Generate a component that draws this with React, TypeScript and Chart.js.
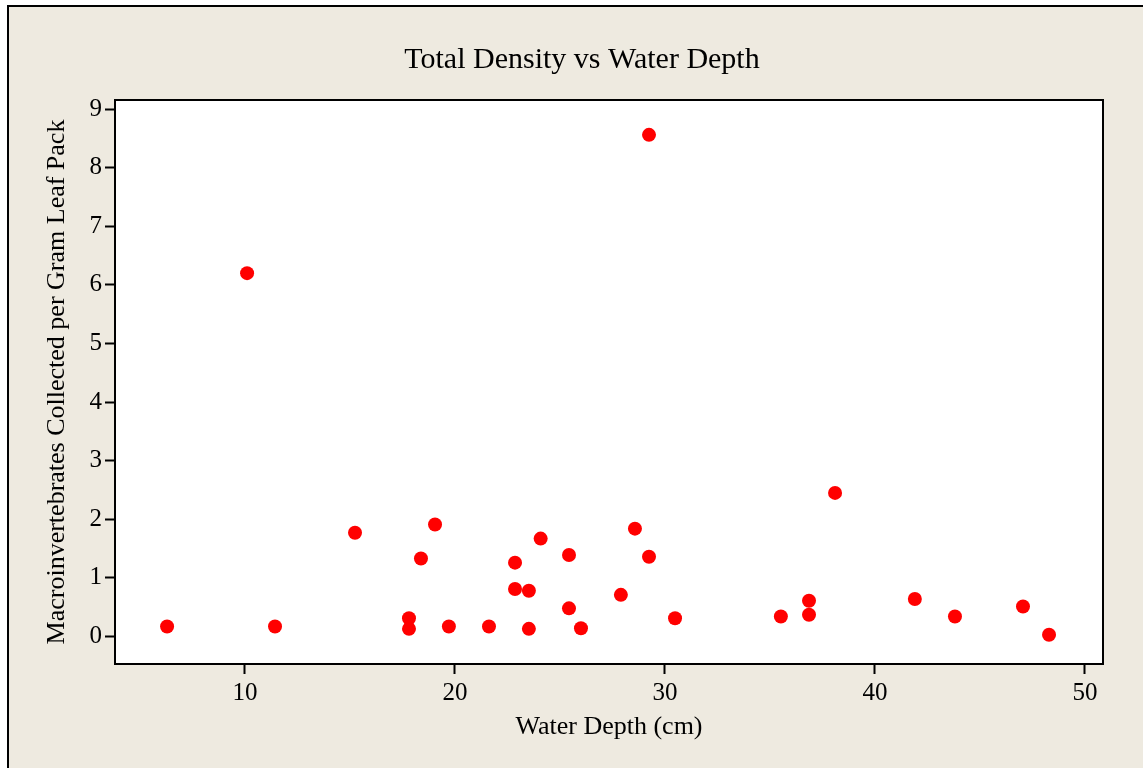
import React, { useEffect, useRef } from "react";
import { Chart, registerables } from "chart.js";

Chart.register(...registerables);

const chartTitle = "Total Density vs Water Depth";
const xAxisTitle = "Water Depth (cm)";
const yAxisTitle = "Macroinvertebrates Collected per Gram Leaf Pack";

const waterDepth = [
  6.29, 10.1, 11.43, 15.24, 17.81, 17.81, 18.38, 19.05, 19.71, 21.62,
  22.86, 22.86, 23.52, 23.52, 24.08, 25.43, 25.43, 26.0, 27.9, 28.57,
  29.24, 29.24, 30.48, 35.52, 36.86, 36.86, 38.1, 41.9, 43.81, 47.05, 48.29,
];
const density = [
  0.17, 6.2, 0.17, 1.77, 0.31, 0.13, 1.33, 1.91, 0.17, 0.17,
  1.26, 0.81, 0.78, 0.13, 1.67, 1.39, 0.48, 0.14, 0.71, 1.84,
  8.56, 1.36, 0.31, 0.34, 0.61, 0.37, 2.45, 0.64, 0.34, 0.51, 0.03,
];

const xTicks = [10, 20, 30, 40, 50];
const yTicks = [0, 1, 2, 3, 4, 5, 6, 7, 8, 9];
const xRange = [3.81, 50.86];
const yRange = [-0.47, 9.155];

const FONT = "'Liberation Serif', 'Times New Roman', serif";

const framePlugin = {
  id: "framePlugin",
  beforeDraw(chart: any) {
    const { ctx, chartArea } = chart;
    const { left, top, right, bottom } = chartArea;
    ctx.save();
    ctx.fillStyle = "#ffffff";
    ctx.fillRect(left, top, right - left, bottom - top);
    ctx.restore();
  },
  afterDraw(chart: any) {
    const { ctx, chartArea } = chart;
    const { left, top, right, bottom } = chartArea;
    ctx.save();
    ctx.strokeStyle = "#000000";
    ctx.lineWidth = 2;
    ctx.strokeRect(left, top, right - left, bottom - top);
    ctx.fillStyle = "#000000";
    ctx.font = `30px ${FONT}`;
    ctx.textAlign = "center";
    ctx.textBaseline = "alphabetic";
    ctx.fillText(chartTitle, 582, 68);
    ctx.restore();
  },
};

export default function App() {
  const canvasRef = useRef<HTMLCanvasElement | null>(null);

  useEffect(() => {
    if (!canvasRef.current) return;
    const chart = new Chart(canvasRef.current, {
      type: "scatter",
      data: {
        datasets: [
          {
            label: "Density",
            data: waterDepth.map((x, i) => ({ x, y: density[i] })),
            backgroundColor: "#ff0000",
            borderColor: "#ff0000",
            borderWidth: 0,
            pointRadius: 7,
            pointHoverRadius: 7,
          },
        ],
      },
      options: {
        responsive: false,
        animation: false,
        events: [],
        layout: { padding: { left: 0, top: 100, right: 40, bottom: 0 } },
        plugins: {
          legend: { display: false },
          title: { display: false },
          tooltip: { enabled: false },
        },
        scales: {
          x: {
            type: "linear",
            min: xRange[0],
            max: xRange[1],
            afterBuildTicks: (scale: any) => {
              scale.ticks = xTicks.map((v) => ({ value: v }));
            },
            afterFit: (scale: any) => {
              scale.height = 104;
            },
            border: { display: false },
            grid: {
              display: true,
              drawOnChartArea: false,
              drawTicks: true,
              tickLength: 10,
              tickWidth: 2,
              tickColor: "#000000",
            },
            ticks: {
              color: "#000000",
              padding: 4,
              maxRotation: 0,
              font: { family: FONT, size: 25 },
            },
            title: {
              display: true,
              text: xAxisTitle,
              color: "#000000",
              font: { family: FONT, size: 26 },
              padding: { top: 0, bottom: 25 },
            },
          },
          y: {
            type: "linear",
            min: yRange[0],
            max: yRange[1],
            afterBuildTicks: (scale: any) => {
              scale.ticks = yTicks.map((v) => ({ value: v }));
            },
            afterFit: (scale: any) => {
              scale.width = 115;
            },
            border: { display: false },
            grid: {
              display: true,
              drawOnChartArea: false,
              drawTicks: true,
              tickLength: 10,
              tickWidth: 2,
              tickColor: "#000000",
            },
            ticks: {
              color: "#000000",
              padding: 3,
              font: { family: FONT, size: 25 },
            },
            title: {
              display: true,
              text: yAxisTitle,
              color: "#000000",
              font: { family: FONT, size: 26 },
              padding: { top: 42, bottom: 0 },
            },
          },
        },
      },
      plugins: [framePlugin],
    });
    return () => chart.destroy();
  }, []);

  return (
    <div
      style={{
        position: "absolute",
        left: 0,
        top: 0,
        width: 1143,
        height: 768,
        overflow: "hidden",
        background: "#ffffff",
      }}
    >
      <div
        style={{
          position: "absolute",
          left: 7,
          top: 5,
          width: 1160,
          height: 800,
          boxSizing: "border-box",
          border: "2px solid #000000",
          background: "#eeeae0",
        }}
      />
      <canvas
        ref={canvasRef}
        width={1143}
        height={768}
        style={{ position: "absolute", left: 0, top: 0, width: 1143, height: 768 }}
      />
    </div>
  );
}
